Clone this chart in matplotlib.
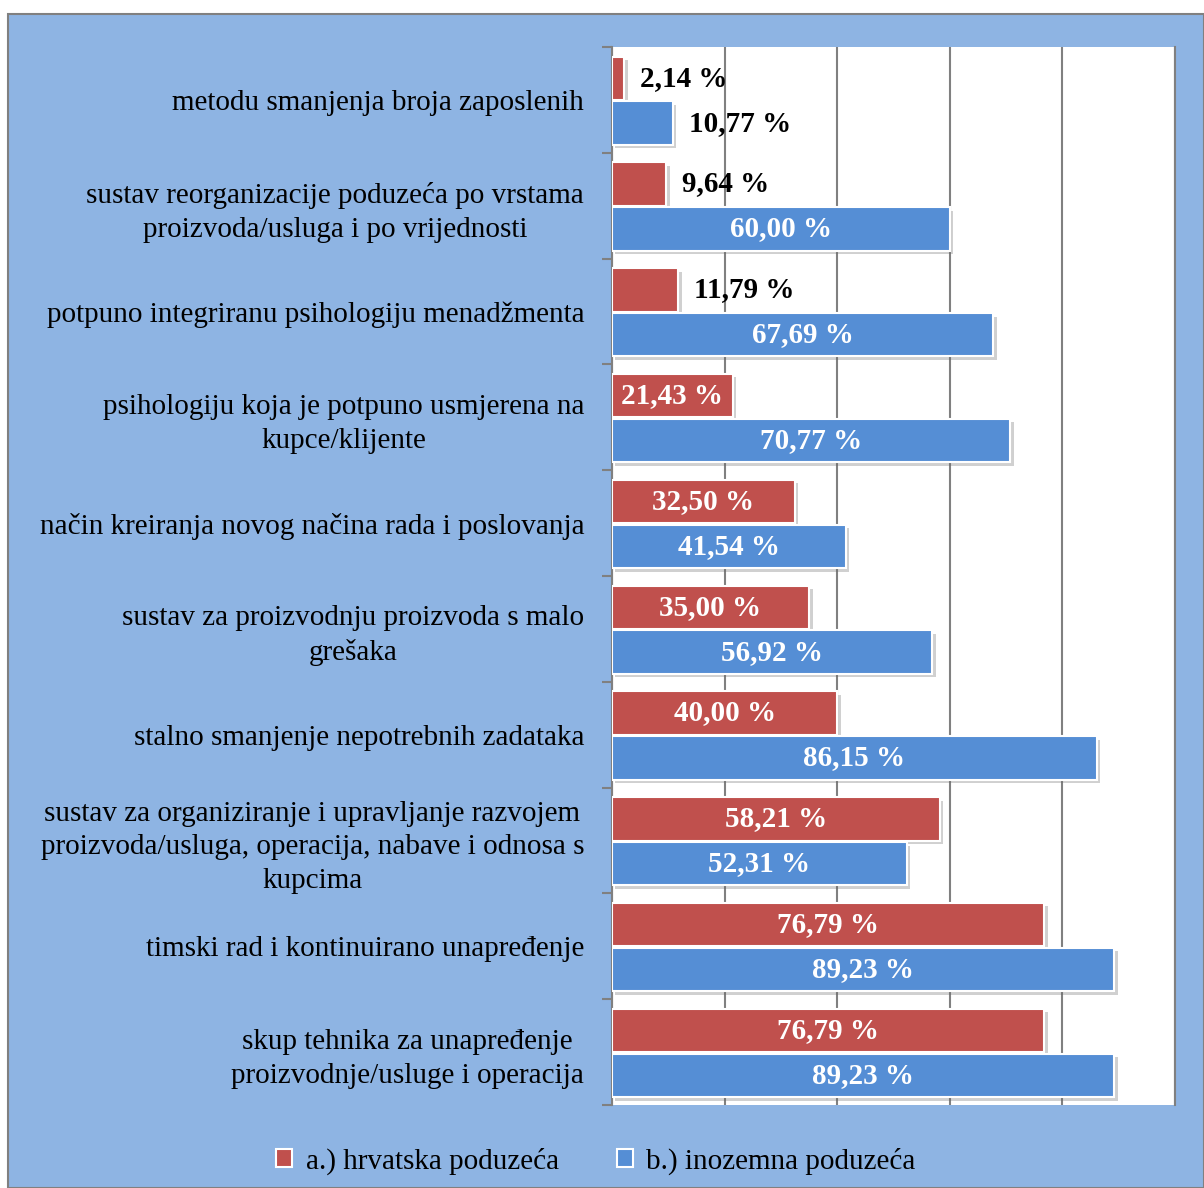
import matplotlib
matplotlib.use("Agg")
import matplotlib.pyplot as plt
import matplotlib.patheffects as pe
from matplotlib.patches import Rectangle, Patch
import numpy as np

plt.rcParams['font.family'] = ['Liberation Serif', 'DejaVu Serif']

categories = [
    "metodu smanjenja broja zaposlenih",
    "sustav reorganizacije poduzeća po vrstama\nproizvoda/usluga i po vrijednosti",
    "potpuno integriranu psihologiju menadžmenta",
    "psihologiju koja je potpuno usmjerena na\nkupce/klijente",
    "način kreiranja novog načina rada i poslovanja",
    "sustav za proizvodnju proizvoda s malo\ngrešaka",
    "stalno smanjenje nepotrebnih zadataka",
    "sustav za organiziranje i upravljanje razvojem\nproizvoda/usluga, operacija, nabave i odnosa s\nkupcima",
    "timski rad i kontinuirano unapređenje",
    "skup tehnika za unapređenje\nproizvodnje/usluge i operacija",
]
hrvatska = [2.14, 9.64, 11.79, 21.43, 32.50, 35.00, 40.00, 58.21, 76.79, 76.79]
inozemna = [10.77, 60.00, 67.69, 70.77, 41.54, 56.92, 86.15, 52.31, 89.23, 89.23]
series_names = ["a.) hrvatska poduzeća", "b.) inozemna poduzeća"]

RED = "#C0504D"
BLUE = "#558ED5"
BG = "#8EB4E3"

W, H = 1204, 1188
fig = plt.figure(figsize=(W / 100, H / 100), dpi=100, facecolor="white")
bg = Rectangle((8 / W, 0), 1 - 8 / W, 1 - 14 / H, transform=fig.transFigure,
               facecolor=BG, edgecolor="#808080", linewidth=1.5, zorder=-10)
fig.patches.append(bg)

ax = fig.add_axes([612 / W, 1 - 1105 / H, (1175 - 612) / W, (1105 - 47) / H])
ax.set_facecolor("white")

n = len(categories)
idx = np.arange(n)
bar_h = 0.41
y_red = idx + 0.295
y_blue = idx + 0.72

shadow = [pe.SimplePatchShadow(offset=(2.5, -2.5), shadow_rgbFace="#666666", alpha=0.3), pe.Normal()]
bars_r = ax.barh(y_red, hrvatska, height=bar_h, color=RED, edgecolor="white", linewidth=1.5, zorder=3)
bars_b = ax.barh(y_blue, inozemna, height=bar_h, color=BLUE, edgecolor="white", linewidth=1.5, zorder=3)
for b in list(bars_r) + list(bars_b):
    b.set_path_effects(shadow)

def fmt(v):
    return f"{v:.2f}".replace(".", ",") + " %"

for bars, vals in ((bars_r, hrvatska), (bars_b, inozemna)):
    for b, v in zip(bars, vals):
        yc = b.get_y() + b.get_height() / 2
        if v < 15:
            ax.annotate(fmt(v), (v, yc), xytext=(11.5, 0), textcoords="offset points",
                        ha="left", va="center", fontsize=21, fontweight="bold", color="black", zorder=5)
        else:
            ax.text(v / 2, yc, fmt(v), ha="center", va="center", fontsize=21,
                    fontweight="bold", color="white", zorder=5)

ax.set_xlim(0, 100)
ax.set_ylim(n, 0)
ax.set_xticks(np.arange(0, 101, 20))
ax.tick_params(axis="x", which="both", length=0, labelbottom=False)
ax.grid(axis="x", color="#808080", linewidth=1.5, zorder=1)
ax.set_axisbelow(True)

ax.set_yticks(idx + 0.5)
ax.set_yticklabels(categories, fontsize=21)
for lab in ax.get_yticklabels():
    lab.set_multialignment("center")
    lab.set_linespacing(1.38)
ax.tick_params(axis="y", which="major", length=0, pad=20)
ax.set_yticks(np.arange(0, n + 1), minor=True)
ax.tick_params(axis="y", which="minor", length=7, width=1.5, color="#808080")

for s in ("top", "bottom"):
    ax.spines[s].set_visible(False)
ax.spines["left"].set_color("#808080")
ax.spines["left"].set_linewidth(1.5)
ax.spines["right"].set_color("#808080")
ax.spines["right"].set_linewidth(1.5)

handles = [Patch(facecolor=RED, edgecolor="white", linewidth=1.5),
           Patch(facecolor=BLUE, edgecolor="white", linewidth=1.5)]
fig.legend(handles, series_names, loc="center", bbox_to_anchor=(596 / W, 1 - 1161 / H),
           ncol=2, frameon=False, fontsize=21, handlelength=0.55, handleheight=0.55,
           handletextpad=0.45, columnspacing=2.0)

fig.savefig("out.png", dpi=100, facecolor="white")
